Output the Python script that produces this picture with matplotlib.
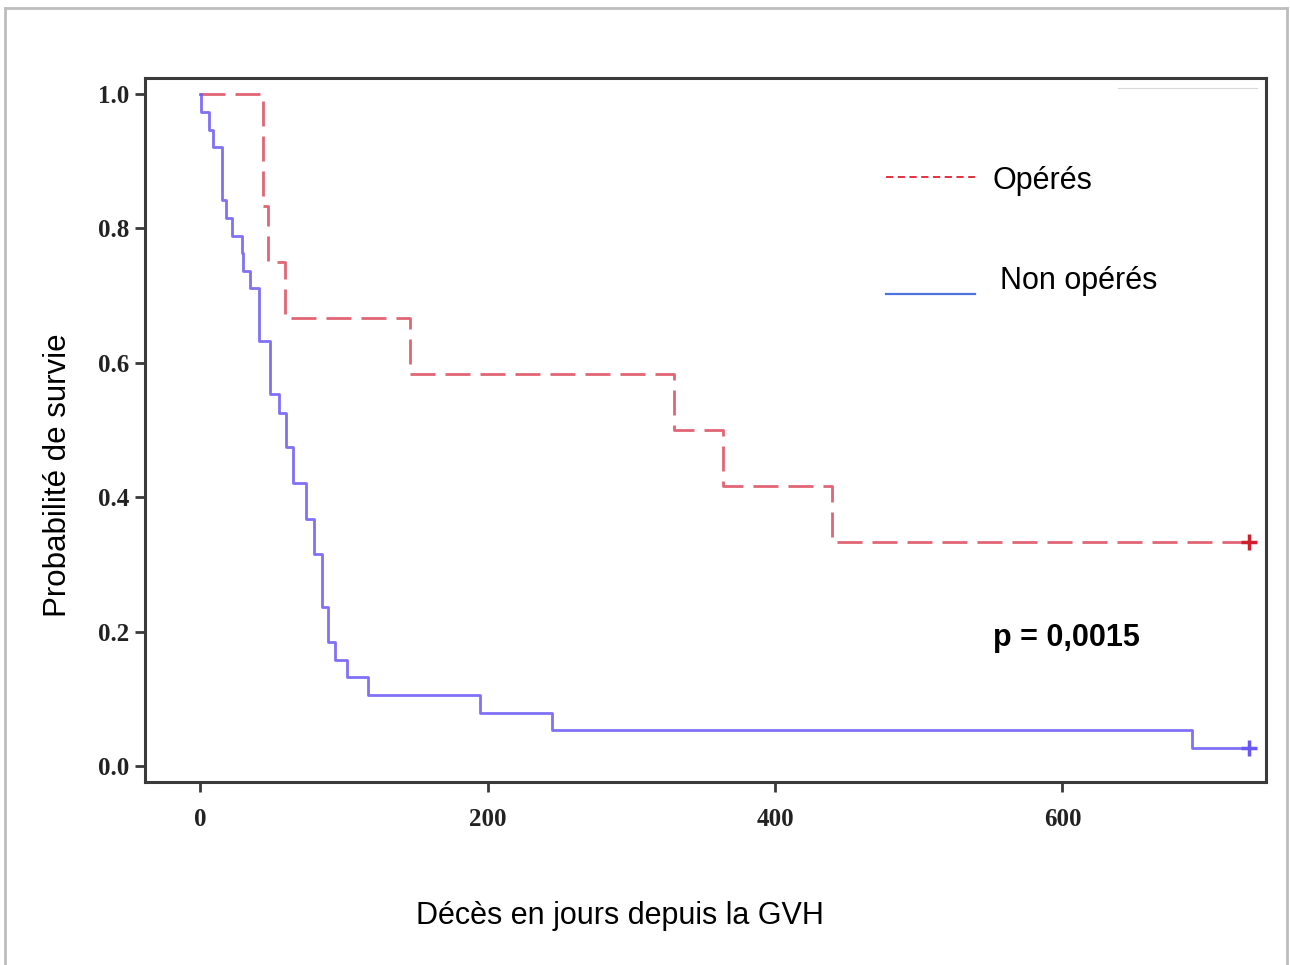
import matplotlib
matplotlib.use("Agg")
import matplotlib.pyplot as plt
from matplotlib.lines import Line2D

# Kaplan-Meier steps (days, survival)
op_days = [0, 44, 47, 59, 146, 330, 364, 440, 730]
op_surv = [1.0, 0.833, 0.75, 0.667, 0.583, 0.5, 0.417, 0.333, 0.333]

nonop_days = [0, 1, 6, 9, 15, 18, 22, 29, 30, 35, 41, 49, 55, 60, 65, 74,
              79, 85, 89, 94, 102, 117, 195, 245, 690, 730]
nonop_surv = [1.0, 0.974, 0.947, 0.921, 0.842, 0.816, 0.789, 0.763, 0.737,
              0.711, 0.632, 0.553, 0.526, 0.474, 0.421, 0.368, 0.316, 0.237,
              0.184, 0.158, 0.132, 0.105, 0.079, 0.053, 0.026, 0.026]

# censored at end of follow-up
op_cens = ([730], [0.333])
nonop_cens = ([730], [0.026])

x_ticks = [0, 200, 400, 600]
y_ticks = [0.0, 0.2, 0.4, 0.6, 0.8, 1.0]

red = "#dc4a5c"
blue = "#6a58f5"
spine_col = "#3a3a3a"

fig = plt.figure(figsize=(12.9, 9.65), dpi=100)
ax = fig.add_axes([145 / 1290, 1 - 782 / 965, 1121 / 1290, 704 / 965])

ax.step(op_days, op_surv, where="post", color=red, lw=2,
        linestyle=(0, (9, 3.6)), alpha=0.85)
ax.step(nonop_days, nonop_surv, where="post", color=blue, lw=2, alpha=0.85)
ax.plot(*op_cens, marker="+", color="#d0202e", ms=11, mew=2.5, ls="none")
ax.plot(*nonop_cens, marker="+", color=blue, ms=11, mew=2.5, ls="none")

ax.set_xlim(-38.3, 741.6)
ax.set_ylim(-0.024, 1.024)
ax.set_xticks(x_ticks)
ax.set_yticks(y_ticks)
ax.set_xticklabels([str(t) for t in x_ticks])
ax.set_yticklabels(["%.1f" % t for t in y_ticks])
for lab in ax.get_xticklabels() + ax.get_yticklabels():
    lab.set_fontfamily("Liberation Serif")
    lab.set_fontweight("bold")
    lab.set_fontsize(18)
    lab.set_color("#222222")
ax.tick_params(direction="out", length=7.5, width=2, color=spine_col)
ax.tick_params(axis="x", pad=11)
ax.tick_params(axis="y", pad=4)
for s in ax.spines.values():
    s.set_linewidth(2.2)
    s.set_color(spine_col)

# small white box artefact at top right
ax.plot([0.868, 0.992], [0.986, 0.986], transform=ax.transAxes,
        color="#d8d8d8", lw=0.8)

# legend drawn by hand
ax.add_line(Line2D([886 / 1290, 975 / 1290], [1 - 177 / 965] * 2,
                   transform=fig.transFigure, color="#e02030", lw=1.3,
                   linestyle=(0, (4, 2.5))))
ax.add_line(Line2D([886 / 1290, 975 / 1290], [1 - 294 / 965] * 2,
                   transform=fig.transFigure, color="#4f74e0", lw=1.6))
fig.text(992 / 1290, 1 - 181 / 965, "Opérés", fontsize=22,
         family="Liberation Sans", va="center", ha="left")
fig.text(1000 / 1290, 1 - 281 / 965, "Non opérés", fontsize=22,
         family="Liberation Sans", va="center", ha="left")
fig.text(993 / 1290, 1 - 638 / 965, "p = 0,0015", fontsize=22,
         family="Liberation Sans", weight="bold", va="center", ha="left")

fig.text(620 / 1290, 1 - 916 / 965, "Décès en jours depuis la GVH",
         fontsize=22, family="Liberation Sans", ha="center", va="center")
fig.text(58 / 1290, 1 - 475 / 965, "Probabilité de survie", fontsize=22.5,
         family="Liberation Sans", rotation=90, ha="center", va="center")

# outer frame of the picture
frame = dict(transform=fig.transFigure, color="#bdbdbd", lw=2)
fig.add_artist(Line2D([5 / 1290, 5 / 1290], [0, 1 - 8 / 965], **frame))
fig.add_artist(Line2D([5 / 1290, 1287 / 1290], [1 - 8 / 965] * 2, **frame))
fig.add_artist(Line2D([1287 / 1290, 1287 / 1290], [0, 1 - 8 / 965], **frame))

fig.savefig("out.png", dpi=100)
